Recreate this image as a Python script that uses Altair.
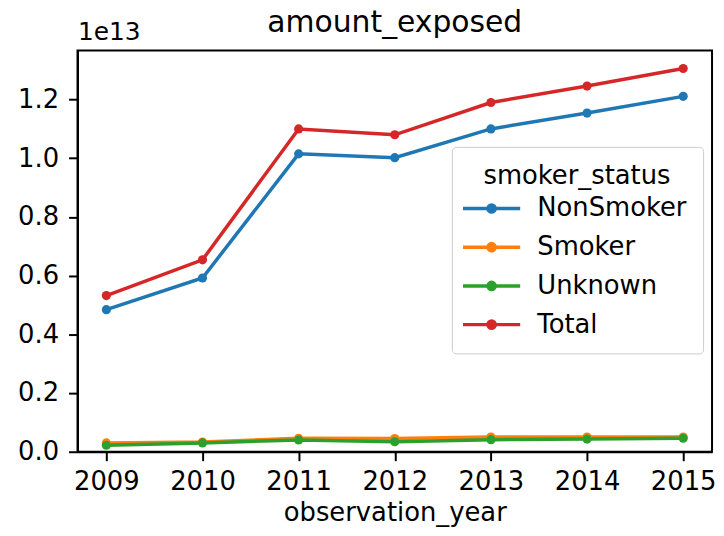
import altair as alt
import pandas as pd

years = [2009, 2010, 2011, 2012, 2013, 2014, 2015]
series_names = ["NonSmoker", "Smoker", "Unknown", "Total"]
# values in units of 1e13
nonsmoker = [0.484, 0.592, 1.015, 1.002, 1.100, 1.154, 1.211]
smoker = [0.030, 0.033, 0.046, 0.045, 0.050, 0.050, 0.050]
unknown = [0.022, 0.030, 0.040, 0.034, 0.041, 0.043, 0.046]
total = [0.532, 0.654, 1.100, 1.080, 1.190, 1.246, 1.306]
colors = ["#1f77b4", "#ff7f0e", "#2ca02c", "#d62728"]
y_ticks = [0.0, 0.2, 0.4, 0.6, 0.8, 1.0, 1.2]

rows = []
for name, vals in zip(series_names, [nonsmoker, smoker, unknown, total]):
    for yr, v in zip(years, vals):
        rows.append({"observation_year": yr, "smoker_status": name, "amount_exposed": v})
df = pd.DataFrame(rows)

FONT = "DejaVu Sans"

x = alt.X(
    "observation_year:Q",
    scale=alt.Scale(domain=[2008.7, 2015.3], nice=False, zero=False),
    axis=alt.Axis(values=years, format="d", title="observation_year", labelPadding=8,
                  titlePadding=5, titleFontSize=26),
)
y = alt.Y(
    "amount_exposed:Q",
    scale=alt.Scale(domain=[0, 1.367], nice=False),
    axis=alt.Axis(
        values=y_ticks, format=".1f", title="1e13", titleAngle=0, titleX=0, titleY=-11,
        titleAlign="left", titleBaseline="alphabetic", labelPadding=10, titleFontSize=25,
    ),
)
legend_symbol = "M-2.4,0L2.4,0M0.3,0A0.3,0.3,0,1,1,-0.3,0A0.3,0.3,0,1,1,0.3,0"
color = alt.Color(
    "smoker_status:N",
    sort=series_names,
    scale=alt.Scale(domain=series_names, range=colors),
    legend=alt.Legend(
        title="smoker_status", orient="none", legendX=377, legendY=97,
        titleFontSize=26, titleFontWeight="normal", titleColor="black", titleFont=FONT,
        titleAnchor="middle", titleAlign="center", titlePadding=6, titleLimit=400,
        labelFontSize=26, labelColor="black", labelFont=FONT, labelLimit=400,
        symbolType=legend_symbol, symbolSize=576, symbolStrokeWidth=3.5,
        symbolOffset=10, labelOffset=32, rowPadding=12,
        padding=16, strokeColor="#cccccc", fillColor="white", cornerRadius=4,
    ),
)

base = alt.Chart(df).encode(x=x, y=y, color=color)
lines = base.mark_line(strokeWidth=3.5)
points = base.mark_point(filled=True, size=85, opacity=1)

chart = alt.layer(lines, points).properties(
    width=639,
    height=404,
    title=alt.TitleParams("amount_exposed", fontSize=30, fontWeight="normal", color="black",
                          font=FONT, anchor="middle", offset=-18),
    autosize=alt.AutoSizeParams(type="none"),
    padding={"left": 70, "top": 41, "right": 4, "bottom": 83},
    background="white",
).configure_axis(
    domainColor="black", domainWidth=2, tickColor="black", tickWidth=2, tickSize=9,
    labelFontSize=26, labelColor="black", labelFont=FONT, grid=False,
    titleFontWeight="normal", titleColor="black", titleFont=FONT,
).configure_view(stroke="black", strokeWidth=2)

chart.save("out.html", embed_options={"renderer": "svg", "actions": False})
